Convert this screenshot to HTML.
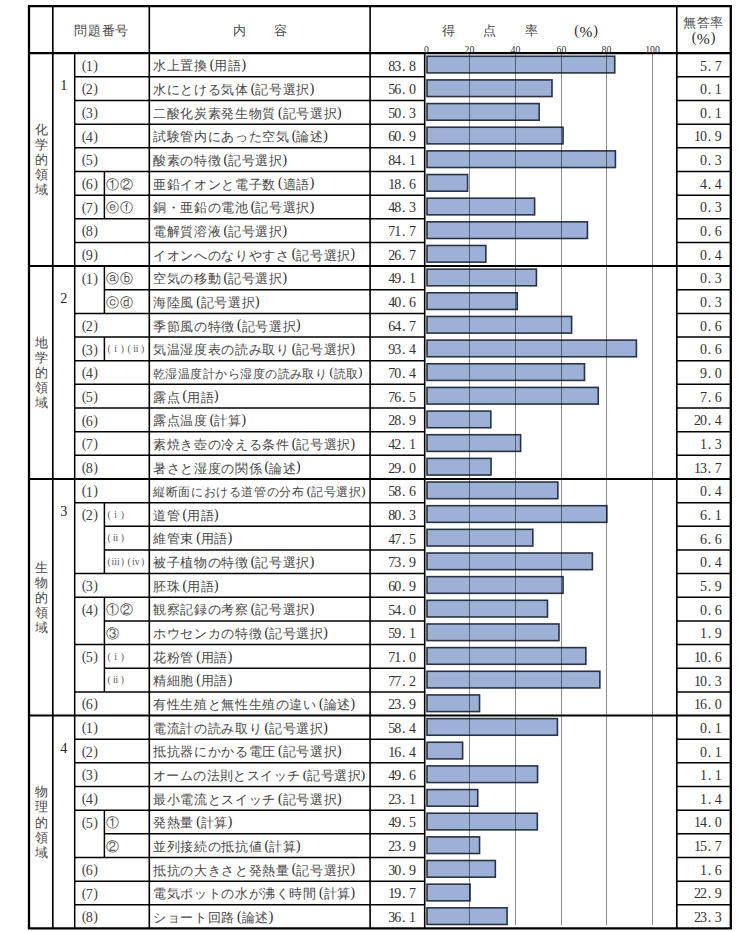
<!DOCTYPE html>
<html lang="ja"><head><meta charset="utf-8"><title>得点率</title>
<style>
html,body{margin:0;padding:0;background:#fff;}
body{width:750px;height:932px;overflow:hidden;}
svg{display:block;}
text{font-family:"Liberation Serif",serif;fill:#262626;}
.c{fill:#484848;}
.p{fill:#444;}
.n{fill:#333;}
.s{fill:#555;}
</style></head><body>
<svg width="750" height="932" viewBox="0 0 750 932">
<rect width="750" height="932" fill="#fff"/>
<rect x="427.00" y="56.25" width="187.74" height="16.65" fill="#9cb1d5" stroke="#2a3344" stroke-width="1.6"/>
<rect x="427.00" y="79.91" width="124.99" height="16.65" fill="#9cb1d5" stroke="#2a3344" stroke-width="1.6"/>
<rect x="427.00" y="103.56" width="112.13" height="16.65" fill="#9cb1d5" stroke="#2a3344" stroke-width="1.6"/>
<rect x="427.00" y="127.22" width="136.05" height="16.65" fill="#9cb1d5" stroke="#2a3344" stroke-width="1.6"/>
<rect x="427.00" y="150.87" width="188.41" height="16.65" fill="#9cb1d5" stroke="#2a3344" stroke-width="1.6"/>
<rect x="427.00" y="174.53" width="40.58" height="16.65" fill="#9cb1d5" stroke="#2a3344" stroke-width="1.6"/>
<rect x="427.00" y="198.18" width="107.61" height="16.65" fill="#9cb1d5" stroke="#2a3344" stroke-width="1.6"/>
<rect x="427.00" y="221.84" width="160.43" height="16.65" fill="#9cb1d5" stroke="#2a3344" stroke-width="1.6"/>
<rect x="427.00" y="245.49" width="58.86" height="16.65" fill="#9cb1d5" stroke="#2a3344" stroke-width="1.6"/>
<rect x="427.00" y="269.15" width="109.42" height="16.65" fill="#9cb1d5" stroke="#2a3344" stroke-width="1.6"/>
<rect x="427.00" y="292.80" width="90.23" height="16.65" fill="#9cb1d5" stroke="#2a3344" stroke-width="1.6"/>
<rect x="427.00" y="316.46" width="144.63" height="16.65" fill="#9cb1d5" stroke="#2a3344" stroke-width="1.6"/>
<rect x="427.00" y="340.11" width="209.40" height="16.65" fill="#9cb1d5" stroke="#2a3344" stroke-width="1.6"/>
<rect x="427.00" y="363.76" width="157.49" height="16.65" fill="#9cb1d5" stroke="#2a3344" stroke-width="1.6"/>
<rect x="427.00" y="387.42" width="171.26" height="16.65" fill="#9cb1d5" stroke="#2a3344" stroke-width="1.6"/>
<rect x="427.00" y="411.08" width="63.83" height="16.65" fill="#9cb1d5" stroke="#2a3344" stroke-width="1.6"/>
<rect x="427.00" y="434.73" width="93.62" height="16.65" fill="#9cb1d5" stroke="#2a3344" stroke-width="1.6"/>
<rect x="427.00" y="458.38" width="64.05" height="16.65" fill="#9cb1d5" stroke="#2a3344" stroke-width="1.6"/>
<rect x="427.00" y="482.04" width="130.86" height="16.65" fill="#9cb1d5" stroke="#2a3344" stroke-width="1.6"/>
<rect x="427.00" y="505.70" width="179.84" height="16.65" fill="#9cb1d5" stroke="#2a3344" stroke-width="1.6"/>
<rect x="427.00" y="529.35" width="105.81" height="16.65" fill="#9cb1d5" stroke="#2a3344" stroke-width="1.6"/>
<rect x="427.00" y="553.00" width="165.39" height="16.65" fill="#9cb1d5" stroke="#2a3344" stroke-width="1.6"/>
<rect x="427.00" y="576.66" width="136.05" height="16.65" fill="#9cb1d5" stroke="#2a3344" stroke-width="1.6"/>
<rect x="427.00" y="600.32" width="120.48" height="16.65" fill="#9cb1d5" stroke="#2a3344" stroke-width="1.6"/>
<rect x="427.00" y="623.97" width="131.99" height="16.65" fill="#9cb1d5" stroke="#2a3344" stroke-width="1.6"/>
<rect x="427.00" y="647.62" width="158.85" height="16.65" fill="#9cb1d5" stroke="#2a3344" stroke-width="1.6"/>
<rect x="427.00" y="671.28" width="172.84" height="16.65" fill="#9cb1d5" stroke="#2a3344" stroke-width="1.6"/>
<rect x="427.00" y="694.94" width="52.54" height="16.65" fill="#9cb1d5" stroke="#2a3344" stroke-width="1.6"/>
<rect x="427.00" y="718.59" width="130.41" height="16.65" fill="#9cb1d5" stroke="#2a3344" stroke-width="1.6"/>
<rect x="427.00" y="742.25" width="35.61" height="16.65" fill="#9cb1d5" stroke="#2a3344" stroke-width="1.6"/>
<rect x="427.00" y="765.90" width="110.55" height="16.65" fill="#9cb1d5" stroke="#2a3344" stroke-width="1.6"/>
<rect x="427.00" y="789.56" width="50.74" height="16.65" fill="#9cb1d5" stroke="#2a3344" stroke-width="1.6"/>
<rect x="427.00" y="813.21" width="110.32" height="16.65" fill="#9cb1d5" stroke="#2a3344" stroke-width="1.6"/>
<rect x="427.00" y="836.87" width="52.54" height="16.65" fill="#9cb1d5" stroke="#2a3344" stroke-width="1.6"/>
<rect x="427.00" y="860.52" width="68.34" height="16.65" fill="#9cb1d5" stroke="#2a3344" stroke-width="1.6"/>
<rect x="427.00" y="884.18" width="43.06" height="16.65" fill="#9cb1d5" stroke="#2a3344" stroke-width="1.6"/>
<rect x="427.00" y="907.83" width="80.08" height="16.65" fill="#9cb1d5" stroke="#2a3344" stroke-width="1.6"/>
<line x1="469.50" y1="53.20" x2="469.50" y2="925" stroke="#000" stroke-opacity="0.45" stroke-width="1"/>
<line x1="515.50" y1="53.20" x2="515.50" y2="925" stroke="#000" stroke-opacity="0.45" stroke-width="1"/>
<line x1="561.50" y1="53.20" x2="561.50" y2="925" stroke="#000" stroke-opacity="0.45" stroke-width="1"/>
<line x1="606.50" y1="53.20" x2="606.50" y2="925" stroke="#000" stroke-opacity="0.45" stroke-width="1"/>
<line x1="652.50" y1="53.20" x2="652.50" y2="925" stroke="#000" stroke-opacity="0.45" stroke-width="1"/>
<line x1="74.70" y1="76.86" x2="424.70" y2="76.86" stroke="#000" stroke-width="1.5"/>
<line x1="676.80" y1="76.86" x2="730.80" y2="76.86" stroke="#000" stroke-width="1.5"/>
<line x1="74.70" y1="100.51" x2="424.70" y2="100.51" stroke="#000" stroke-width="1.5"/>
<line x1="676.80" y1="100.51" x2="730.80" y2="100.51" stroke="#000" stroke-width="1.5"/>
<line x1="74.70" y1="124.17" x2="424.70" y2="124.17" stroke="#000" stroke-width="1.5"/>
<line x1="676.80" y1="124.17" x2="730.80" y2="124.17" stroke="#000" stroke-width="1.5"/>
<line x1="74.70" y1="147.82" x2="424.70" y2="147.82" stroke="#000" stroke-width="1.5"/>
<line x1="676.80" y1="147.82" x2="730.80" y2="147.82" stroke="#000" stroke-width="1.5"/>
<line x1="74.70" y1="171.48" x2="424.70" y2="171.48" stroke="#000" stroke-width="1.5"/>
<line x1="676.80" y1="171.48" x2="730.80" y2="171.48" stroke="#000" stroke-width="1.5"/>
<line x1="74.70" y1="195.13" x2="424.70" y2="195.13" stroke="#000" stroke-width="1.5"/>
<line x1="676.80" y1="195.13" x2="730.80" y2="195.13" stroke="#000" stroke-width="1.5"/>
<line x1="74.70" y1="218.79" x2="424.70" y2="218.79" stroke="#000" stroke-width="1.5"/>
<line x1="676.80" y1="218.79" x2="730.80" y2="218.79" stroke="#000" stroke-width="1.5"/>
<line x1="74.70" y1="242.44" x2="424.70" y2="242.44" stroke="#000" stroke-width="1.5"/>
<line x1="676.80" y1="242.44" x2="730.80" y2="242.44" stroke="#000" stroke-width="1.5"/>
<line x1="29.00" y1="266.10" x2="730.80" y2="266.10" stroke="#000" stroke-width="2.0"/>
<line x1="104.40" y1="289.75" x2="424.70" y2="289.75" stroke="#000" stroke-width="1.5"/>
<line x1="676.80" y1="289.75" x2="730.80" y2="289.75" stroke="#000" stroke-width="1.5"/>
<line x1="74.70" y1="313.41" x2="424.70" y2="313.41" stroke="#000" stroke-width="1.5"/>
<line x1="676.80" y1="313.41" x2="730.80" y2="313.41" stroke="#000" stroke-width="1.5"/>
<line x1="74.70" y1="337.06" x2="424.70" y2="337.06" stroke="#000" stroke-width="1.5"/>
<line x1="676.80" y1="337.06" x2="730.80" y2="337.06" stroke="#000" stroke-width="1.5"/>
<line x1="74.70" y1="360.71" x2="424.70" y2="360.71" stroke="#000" stroke-width="1.5"/>
<line x1="676.80" y1="360.71" x2="730.80" y2="360.71" stroke="#000" stroke-width="1.5"/>
<line x1="74.70" y1="384.37" x2="424.70" y2="384.37" stroke="#000" stroke-width="1.5"/>
<line x1="676.80" y1="384.37" x2="730.80" y2="384.37" stroke="#000" stroke-width="1.5"/>
<line x1="74.70" y1="408.03" x2="424.70" y2="408.03" stroke="#000" stroke-width="1.5"/>
<line x1="676.80" y1="408.03" x2="730.80" y2="408.03" stroke="#000" stroke-width="1.5"/>
<line x1="74.70" y1="431.68" x2="424.70" y2="431.68" stroke="#000" stroke-width="1.5"/>
<line x1="676.80" y1="431.68" x2="730.80" y2="431.68" stroke="#000" stroke-width="1.5"/>
<line x1="74.70" y1="455.33" x2="424.70" y2="455.33" stroke="#000" stroke-width="1.5"/>
<line x1="676.80" y1="455.33" x2="730.80" y2="455.33" stroke="#000" stroke-width="1.5"/>
<line x1="29.00" y1="478.99" x2="730.80" y2="478.99" stroke="#000" stroke-width="2.0"/>
<line x1="74.70" y1="502.65" x2="424.70" y2="502.65" stroke="#000" stroke-width="1.5"/>
<line x1="676.80" y1="502.65" x2="730.80" y2="502.65" stroke="#000" stroke-width="1.5"/>
<line x1="104.40" y1="526.30" x2="424.70" y2="526.30" stroke="#000" stroke-width="1.5"/>
<line x1="676.80" y1="526.30" x2="730.80" y2="526.30" stroke="#000" stroke-width="1.5"/>
<line x1="104.40" y1="549.96" x2="424.70" y2="549.96" stroke="#000" stroke-width="1.5"/>
<line x1="676.80" y1="549.96" x2="730.80" y2="549.96" stroke="#000" stroke-width="1.5"/>
<line x1="74.70" y1="573.61" x2="424.70" y2="573.61" stroke="#000" stroke-width="1.5"/>
<line x1="676.80" y1="573.61" x2="730.80" y2="573.61" stroke="#000" stroke-width="1.5"/>
<line x1="74.70" y1="597.27" x2="424.70" y2="597.27" stroke="#000" stroke-width="1.5"/>
<line x1="676.80" y1="597.27" x2="730.80" y2="597.27" stroke="#000" stroke-width="1.5"/>
<line x1="104.40" y1="620.92" x2="424.70" y2="620.92" stroke="#000" stroke-width="1.5"/>
<line x1="676.80" y1="620.92" x2="730.80" y2="620.92" stroke="#000" stroke-width="1.5"/>
<line x1="74.70" y1="644.58" x2="424.70" y2="644.58" stroke="#000" stroke-width="1.5"/>
<line x1="676.80" y1="644.58" x2="730.80" y2="644.58" stroke="#000" stroke-width="1.5"/>
<line x1="104.40" y1="668.23" x2="424.70" y2="668.23" stroke="#000" stroke-width="1.5"/>
<line x1="676.80" y1="668.23" x2="730.80" y2="668.23" stroke="#000" stroke-width="1.5"/>
<line x1="74.70" y1="691.89" x2="424.70" y2="691.89" stroke="#000" stroke-width="1.5"/>
<line x1="676.80" y1="691.89" x2="730.80" y2="691.89" stroke="#000" stroke-width="1.5"/>
<line x1="29.00" y1="715.54" x2="730.80" y2="715.54" stroke="#000" stroke-width="2.0"/>
<line x1="74.70" y1="739.20" x2="424.70" y2="739.20" stroke="#000" stroke-width="1.5"/>
<line x1="676.80" y1="739.20" x2="730.80" y2="739.20" stroke="#000" stroke-width="1.5"/>
<line x1="74.70" y1="762.85" x2="424.70" y2="762.85" stroke="#000" stroke-width="1.5"/>
<line x1="676.80" y1="762.85" x2="730.80" y2="762.85" stroke="#000" stroke-width="1.5"/>
<line x1="74.70" y1="786.51" x2="424.70" y2="786.51" stroke="#000" stroke-width="1.5"/>
<line x1="676.80" y1="786.51" x2="730.80" y2="786.51" stroke="#000" stroke-width="1.5"/>
<line x1="74.70" y1="810.16" x2="424.70" y2="810.16" stroke="#000" stroke-width="1.5"/>
<line x1="676.80" y1="810.16" x2="730.80" y2="810.16" stroke="#000" stroke-width="1.5"/>
<line x1="104.40" y1="833.82" x2="424.70" y2="833.82" stroke="#000" stroke-width="1.5"/>
<line x1="676.80" y1="833.82" x2="730.80" y2="833.82" stroke="#000" stroke-width="1.5"/>
<line x1="74.70" y1="857.47" x2="424.70" y2="857.47" stroke="#000" stroke-width="1.5"/>
<line x1="676.80" y1="857.47" x2="730.80" y2="857.47" stroke="#000" stroke-width="1.5"/>
<line x1="74.70" y1="881.13" x2="424.70" y2="881.13" stroke="#000" stroke-width="1.5"/>
<line x1="676.80" y1="881.13" x2="730.80" y2="881.13" stroke="#000" stroke-width="1.5"/>
<line x1="74.70" y1="904.78" x2="424.70" y2="904.78" stroke="#000" stroke-width="1.5"/>
<line x1="676.80" y1="904.78" x2="730.80" y2="904.78" stroke="#000" stroke-width="1.5"/>
<line x1="29.00" y1="53.20" x2="730.80" y2="53.20" stroke="#000" stroke-width="2.2"/>
<line x1="52.80" y1="6.20" x2="52.80" y2="928.40" stroke="#000" stroke-width="1.7"/>
<line x1="74.70" y1="53.20" x2="74.70" y2="928.40" stroke="#000" stroke-width="1.5"/>
<line x1="149.30" y1="6.20" x2="149.30" y2="928.40" stroke="#000" stroke-width="1.6"/>
<line x1="370.10" y1="6.20" x2="370.10" y2="928.40" stroke="#000" stroke-width="1.6"/>
<line x1="424.70" y1="53.20" x2="424.70" y2="928.40" stroke="#000" stroke-width="1.6"/>
<line x1="676.80" y1="6.20" x2="676.80" y2="928.40" stroke="#000" stroke-width="1.7"/>
<line x1="104.40" y1="171.48" x2="104.40" y2="195.13" stroke="#000" stroke-width="1.5"/>
<line x1="104.40" y1="195.13" x2="104.40" y2="218.79" stroke="#000" stroke-width="1.5"/>
<line x1="104.40" y1="266.10" x2="104.40" y2="289.75" stroke="#000" stroke-width="1.5"/>
<line x1="104.40" y1="289.75" x2="104.40" y2="313.41" stroke="#000" stroke-width="1.5"/>
<line x1="104.40" y1="337.06" x2="104.40" y2="360.71" stroke="#000" stroke-width="1.5"/>
<line x1="104.40" y1="502.65" x2="104.40" y2="526.30" stroke="#000" stroke-width="1.5"/>
<line x1="104.40" y1="526.30" x2="104.40" y2="549.96" stroke="#000" stroke-width="1.5"/>
<line x1="104.40" y1="549.96" x2="104.40" y2="573.61" stroke="#000" stroke-width="1.5"/>
<line x1="104.40" y1="597.27" x2="104.40" y2="620.92" stroke="#000" stroke-width="1.5"/>
<line x1="104.40" y1="620.92" x2="104.40" y2="644.58" stroke="#000" stroke-width="1.5"/>
<line x1="104.40" y1="644.58" x2="104.40" y2="668.23" stroke="#000" stroke-width="1.5"/>
<line x1="104.40" y1="668.23" x2="104.40" y2="691.89" stroke="#000" stroke-width="1.5"/>
<line x1="104.40" y1="810.16" x2="104.40" y2="833.82" stroke="#000" stroke-width="1.5"/>
<line x1="104.40" y1="833.82" x2="104.40" y2="857.47" stroke="#000" stroke-width="1.5"/>
<line x1="27.90" y1="6.20" x2="731.90" y2="6.20" stroke="#000" stroke-width="2.3"/>
<line x1="27.90" y1="928.40" x2="731.90" y2="928.40" stroke="#000" stroke-width="2.3"/>
<line x1="29.00" y1="6.20" x2="29.00" y2="928.40" stroke="#000" stroke-width="2.3"/>
<line x1="730.80" y1="6.20" x2="730.80" y2="928.40" stroke="#000" stroke-width="2.3"/>
<text class="p" font-size="14.2" text-anchor="middle"><tspan x="84.2" y="69.70">(</tspan><tspan x="89.35" y="70.80">1</tspan><tspan x="95.6" y="69.70">)</tspan></text>
<text><tspan class="c" x="152.97 166.62 180.28 193.93" y="70.38" font-size="12.90">水上置換</tspan><tspan x="209.78" y="69.21" font-size="13.65">(</tspan><tspan class="c" x="214.40 228.05" y="70.38" font-size="12.90">用語</tspan><tspan x="241.43" y="69.21" font-size="13.65">)</tspan></text>
<text x="391.70 397.70 403.70 412.40" y="70.50" font-size="14" text-anchor="middle" class="n">83.8</text>
<text x="703.50 709.50 718.20" y="70.50" font-size="14" text-anchor="middle" class="n">5.7</text>
<text class="p" font-size="14.2" text-anchor="middle"><tspan x="84.2" y="93.36">(</tspan><tspan x="89.35" y="94.46">2</tspan><tspan x="95.6" y="93.36">)</tspan></text>
<text><tspan class="c" x="152.97 166.62 180.28 193.93 207.58 221.23 234.88" y="94.03" font-size="12.90">水にとける気体</tspan><tspan x="250.73" y="92.87" font-size="13.65">(</tspan><tspan class="c" x="255.35 269.00 282.65 296.30" y="94.03" font-size="12.90">記号選択</tspan><tspan x="309.67" y="92.87" font-size="13.65">)</tspan></text>
<text x="391.70 397.70 403.70 412.40" y="94.16" font-size="14" text-anchor="middle" class="n">56.0</text>
<text x="703.50 709.50 718.20" y="94.16" font-size="14" text-anchor="middle" class="n">0.1</text>
<text class="p" font-size="14.2" text-anchor="middle"><tspan x="84.2" y="117.01">(</tspan><tspan x="89.35" y="118.11">3</tspan><tspan x="95.6" y="117.01">)</tspan></text>
<text><tspan class="c" x="152.97 166.62 180.28 193.93 207.58 221.23 234.88 248.53 262.18" y="117.69" font-size="12.90">二酸化炭素発生物質</tspan><tspan x="278.03" y="116.52" font-size="13.65">(</tspan><tspan class="c" x="282.65 296.30 309.95 323.60" y="117.69" font-size="12.90">記号選択</tspan><tspan x="336.97" y="116.52" font-size="13.65">)</tspan></text>
<text x="391.70 397.70 403.70 412.40" y="117.81" font-size="14" text-anchor="middle" class="n">50.3</text>
<text x="703.50 709.50 718.20" y="117.81" font-size="14" text-anchor="middle" class="n">0.1</text>
<text class="p" font-size="14.2" text-anchor="middle"><tspan x="84.2" y="140.67">(</tspan><tspan x="89.35" y="141.77">4</tspan><tspan x="95.6" y="140.67">)</tspan></text>
<text><tspan class="c" x="152.97 166.62 180.28 193.93 207.58 221.23 234.88 248.53 262.18 275.82" y="141.34" font-size="12.90">試験管内にあった空気</tspan><tspan x="291.68" y="140.18" font-size="13.65">(</tspan><tspan class="c" x="296.30 309.95" y="141.34" font-size="12.90">論述</tspan><tspan x="323.32" y="140.18" font-size="13.65">)</tspan></text>
<text x="391.70 397.70 403.70 412.40" y="141.47" font-size="14" text-anchor="middle" class="n">60.9</text>
<text x="697.50 703.50 709.50 718.20" y="141.47" font-size="14" text-anchor="middle" class="n">10.9</text>
<text class="p" font-size="14.2" text-anchor="middle"><tspan x="84.2" y="164.32">(</tspan><tspan x="89.35" y="165.42">5</tspan><tspan x="95.6" y="164.32">)</tspan></text>
<text><tspan class="c" x="152.97 166.62 180.28 193.93 207.58" y="165.00" font-size="12.90">酸素の特徴</tspan><tspan x="223.43" y="163.83" font-size="13.65">(</tspan><tspan class="c" x="228.05 241.70 255.35 269.00" y="165.00" font-size="12.90">記号選択</tspan><tspan x="282.38" y="163.83" font-size="13.65">)</tspan></text>
<text x="391.70 397.70 403.70 412.40" y="165.12" font-size="14" text-anchor="middle" class="n">84.1</text>
<text x="703.50 709.50 718.20" y="165.12" font-size="14" text-anchor="middle" class="n">0.3</text>
<text class="p" font-size="14.2" text-anchor="middle"><tspan x="84.2" y="187.98">(</tspan><tspan x="89.35" y="189.08">6</tspan><tspan x="95.6" y="187.98">)</tspan></text>
<text><tspan class="c" x="105.92 119.58" y="188.69" font-size="13.00">①②</tspan></text>
<text><tspan class="c" x="152.97 166.62 180.28 193.93 207.58 221.23 234.88 248.53 262.18" y="188.65" font-size="12.90">亜鉛イオンと電子数</tspan><tspan x="278.03" y="187.49" font-size="13.65">(</tspan><tspan class="c" x="282.65 296.30" y="188.65" font-size="12.90">適語</tspan><tspan x="309.67" y="187.49" font-size="13.65">)</tspan></text>
<text x="391.70 397.70 403.70 412.40" y="188.78" font-size="14" text-anchor="middle" class="n">18.6</text>
<text x="703.50 709.50 718.20" y="188.78" font-size="14" text-anchor="middle" class="n">4.4</text>
<text class="p" font-size="14.2" text-anchor="middle"><tspan x="84.2" y="211.63">(</tspan><tspan x="89.35" y="212.73">7</tspan><tspan x="95.6" y="211.63">)</tspan></text>
<text><tspan class="c" x="105.92 119.58" y="212.34" font-size="13.00">ⓔⓕ</tspan></text>
<text><tspan class="c" x="152.97 166.62 180.28 193.93 207.58 221.23 234.88" y="212.31" font-size="12.90">銅・亜鉛の電池</tspan><tspan x="250.73" y="211.14" font-size="13.65">(</tspan><tspan class="c" x="255.35 269.00 282.65 296.30" y="212.31" font-size="12.90">記号選択</tspan><tspan x="309.67" y="211.14" font-size="13.65">)</tspan></text>
<text x="391.70 397.70 403.70 412.40" y="212.43" font-size="14" text-anchor="middle" class="n">48.3</text>
<text x="703.50 709.50 718.20" y="212.43" font-size="14" text-anchor="middle" class="n">0.3</text>
<text class="p" font-size="14.2" text-anchor="middle"><tspan x="84.2" y="235.29">(</tspan><tspan x="89.35" y="236.39">8</tspan><tspan x="95.6" y="235.29">)</tspan></text>
<text><tspan class="c" x="152.97 166.62 180.28 193.93 207.58" y="235.96" font-size="12.90">電解質溶液</tspan><tspan x="223.43" y="234.80" font-size="13.65">(</tspan><tspan class="c" x="228.05 241.70 255.35 269.00" y="235.96" font-size="12.90">記号選択</tspan><tspan x="282.38" y="234.80" font-size="13.65">)</tspan></text>
<text x="391.70 397.70 403.70 412.40" y="236.09" font-size="14" text-anchor="middle" class="n">71.7</text>
<text x="703.50 709.50 718.20" y="236.09" font-size="14" text-anchor="middle" class="n">0.6</text>
<text class="p" font-size="14.2" text-anchor="middle"><tspan x="84.2" y="258.94">(</tspan><tspan x="89.35" y="260.04">9</tspan><tspan x="95.6" y="258.94">)</tspan></text>
<text><tspan class="c" x="152.97 166.62 180.28 193.93 207.58 221.23 234.88 248.53 262.18 275.82" y="259.62" font-size="12.90">イオンへのなりやすさ</tspan><tspan x="291.68" y="258.45" font-size="13.65">(</tspan><tspan class="c" x="296.30 309.95 323.60 337.25" y="259.62" font-size="12.90">記号選択</tspan><tspan x="350.62" y="258.45" font-size="13.65">)</tspan></text>
<text x="391.70 397.70 403.70 412.40" y="259.74" font-size="14" text-anchor="middle" class="n">26.7</text>
<text x="703.50 709.50 718.20" y="259.74" font-size="14" text-anchor="middle" class="n">0.4</text>
<text class="p" font-size="14.2" text-anchor="middle"><tspan x="84.2" y="282.60">(</tspan><tspan x="89.35" y="283.70">1</tspan><tspan x="95.6" y="282.60">)</tspan></text>
<text><tspan class="c" x="105.92 119.58" y="283.31" font-size="13.00">ⓐⓑ</tspan></text>
<text><tspan class="c" x="152.97 166.62 180.28 193.93 207.58" y="283.27" font-size="12.90">空気の移動</tspan><tspan x="223.43" y="282.11" font-size="13.65">(</tspan><tspan class="c" x="228.05 241.70 255.35 269.00" y="283.27" font-size="12.90">記号選択</tspan><tspan x="282.38" y="282.11" font-size="13.65">)</tspan></text>
<text x="391.70 397.70 403.70 412.40" y="283.40" font-size="14" text-anchor="middle" class="n">49.1</text>
<text x="703.50 709.50 718.20" y="283.40" font-size="14" text-anchor="middle" class="n">0.3</text>
<text><tspan class="c" x="105.92 119.58" y="306.97" font-size="13.00">ⓒⓓ</tspan></text>
<text><tspan class="c" x="152.97 166.62 180.28" y="306.93" font-size="12.90">海陸風</tspan><tspan x="196.13" y="305.76" font-size="13.65">(</tspan><tspan class="c" x="200.75 214.40 228.05 241.70" y="306.93" font-size="12.90">記号選択</tspan><tspan x="255.08" y="305.76" font-size="13.65">)</tspan></text>
<text x="391.70 397.70 403.70 412.40" y="307.05" font-size="14" text-anchor="middle" class="n">40.6</text>
<text x="703.50 709.50 718.20" y="307.05" font-size="14" text-anchor="middle" class="n">0.3</text>
<text class="p" font-size="14.2" text-anchor="middle"><tspan x="84.2" y="329.91">(</tspan><tspan x="89.35" y="331.01">2</tspan><tspan x="95.6" y="329.91">)</tspan></text>
<text><tspan class="c" x="152.97 166.62 180.28 193.93 207.58 221.23" y="330.58" font-size="12.90">季節風の特徴</tspan><tspan x="237.08" y="329.42" font-size="13.65">(</tspan><tspan class="c" x="241.70 255.35 269.00 282.65" y="330.58" font-size="12.90">記号選択</tspan><tspan x="296.02" y="329.42" font-size="13.65">)</tspan></text>
<text x="391.70 397.70 403.70 412.40" y="330.71" font-size="14" text-anchor="middle" class="n">64.7</text>
<text x="703.50 709.50 718.20" y="330.71" font-size="14" text-anchor="middle" class="n">0.6</text>
<text class="p" font-size="14.2" text-anchor="middle"><tspan x="84.2" y="353.56">(</tspan><tspan x="89.35" y="354.66">3</tspan><tspan x="95.6" y="353.56">)</tspan></text>
<text class="s" y="352.06" font-size="9.6" text-anchor="middle"><tspan x="109.00">(</tspan><tspan x="115.60">i</tspan><tspan x="122.40">)</tspan><tspan x="129.20">(</tspan><tspan x="135.80">ii</tspan><tspan x="142.60">)</tspan></text>
<text><tspan class="c" x="152.97 166.62 180.28 193.93 207.58 221.23 234.88 248.53 262.18 275.82" y="354.24" font-size="12.90">気温湿度表の読み取り</tspan><tspan x="291.68" y="353.07" font-size="13.65">(</tspan><tspan class="c" x="296.30 309.95 323.60 337.25" y="354.24" font-size="12.90">記号選択</tspan><tspan x="350.62" y="353.07" font-size="13.65">)</tspan></text>
<text x="391.70 397.70 403.70 412.40" y="354.36" font-size="14" text-anchor="middle" class="n">93.4</text>
<text x="703.50 709.50 718.20" y="354.36" font-size="14" text-anchor="middle" class="n">0.6</text>
<text class="p" font-size="14.2" text-anchor="middle"><tspan x="84.2" y="377.21">(</tspan><tspan x="89.35" y="378.31">4</tspan><tspan x="95.6" y="377.21">)</tspan></text>
<text><tspan class="c" x="152.94 165.40 177.87 190.33 202.79 215.25 227.72 240.18 252.64 265.10 277.57 290.03 302.49 314.95" y="377.50" font-size="11.78">乾湿温度計から湿度の読み取り</tspan><tspan x="329.46" y="376.43" font-size="12.46">(</tspan><tspan class="c" x="333.65 346.11" y="377.50" font-size="11.78">読取</tspan><tspan x="358.33" y="376.43" font-size="12.46">)</tspan></text>
<text x="391.70 397.70 403.70 412.40" y="378.01" font-size="14" text-anchor="middle" class="n">70.4</text>
<text x="703.50 709.50 718.20" y="378.01" font-size="14" text-anchor="middle" class="n">9.0</text>
<text class="p" font-size="14.2" text-anchor="middle"><tspan x="84.2" y="400.87">(</tspan><tspan x="89.35" y="401.97">5</tspan><tspan x="95.6" y="400.87">)</tspan></text>
<text><tspan class="c" x="152.97 166.62" y="401.55" font-size="12.90">露点</tspan><tspan x="182.48" y="400.38" font-size="13.65">(</tspan><tspan class="c" x="187.10 200.75" y="401.55" font-size="12.90">用語</tspan><tspan x="214.12" y="400.38" font-size="13.65">)</tspan></text>
<text x="391.70 397.70 403.70 412.40" y="401.67" font-size="14" text-anchor="middle" class="n">76.5</text>
<text x="703.50 709.50 718.20" y="401.67" font-size="14" text-anchor="middle" class="n">7.6</text>
<text class="p" font-size="14.2" text-anchor="middle"><tspan x="84.2" y="424.53">(</tspan><tspan x="89.35" y="425.63">6</tspan><tspan x="95.6" y="424.53">)</tspan></text>
<text><tspan class="c" x="152.97 166.62 180.28 193.93" y="425.20" font-size="12.90">露点温度</tspan><tspan x="209.78" y="424.04" font-size="13.65">(</tspan><tspan class="c" x="214.40 228.05" y="425.20" font-size="12.90">計算</tspan><tspan x="241.43" y="424.04" font-size="13.65">)</tspan></text>
<text x="391.70 397.70 403.70 412.40" y="425.33" font-size="14" text-anchor="middle" class="n">28.9</text>
<text x="697.50 703.50 709.50 718.20" y="425.33" font-size="14" text-anchor="middle" class="n">20.4</text>
<text class="p" font-size="14.2" text-anchor="middle"><tspan x="84.2" y="448.18">(</tspan><tspan x="89.35" y="449.28">7</tspan><tspan x="95.6" y="448.18">)</tspan></text>
<text><tspan class="c" x="152.97 166.62 180.28 193.93 207.58 221.23 234.88 248.53 262.18 275.82" y="448.86" font-size="12.90">素焼き壺の冷える条件</tspan><tspan x="291.68" y="447.69" font-size="13.65">(</tspan><tspan class="c" x="296.30 309.95 323.60 337.25" y="448.86" font-size="12.90">記号選択</tspan><tspan x="350.62" y="447.69" font-size="13.65">)</tspan></text>
<text x="391.70 397.70 403.70 412.40" y="448.98" font-size="14" text-anchor="middle" class="n">42.1</text>
<text x="703.50 709.50 718.20" y="448.98" font-size="14" text-anchor="middle" class="n">1.3</text>
<text class="p" font-size="14.2" text-anchor="middle"><tspan x="84.2" y="471.83">(</tspan><tspan x="89.35" y="472.94">8</tspan><tspan x="95.6" y="471.83">)</tspan></text>
<text><tspan class="c" x="152.97 166.62 180.28 193.93 207.58 221.23 234.88 248.53" y="472.51" font-size="12.90">暑さと湿度の関係</tspan><tspan x="264.38" y="471.35" font-size="13.65">(</tspan><tspan class="c" x="269.00 282.65" y="472.51" font-size="12.90">論述</tspan><tspan x="296.02" y="471.35" font-size="13.65">)</tspan></text>
<text x="391.70 397.70 403.70 412.40" y="472.63" font-size="14" text-anchor="middle" class="n">29.0</text>
<text x="697.50 703.50 709.50 718.20" y="472.63" font-size="14" text-anchor="middle" class="n">13.7</text>
<text class="p" font-size="14.2" text-anchor="middle"><tspan x="84.2" y="495.49">(</tspan><tspan x="89.35" y="496.59">1</tspan><tspan x="95.6" y="495.49">)</tspan></text>
<text><tspan class="c" x="152.95 165.59 178.23 190.87 203.51 216.15 228.79 241.43 254.07 266.71 279.35 291.99" y="495.83" font-size="11.95">縦断面における道管の分布</tspan><tspan x="306.69" y="494.75" font-size="12.64">(</tspan><tspan class="c" x="310.95 323.59 336.23 348.87" y="495.83" font-size="11.95">記号選択</tspan><tspan x="361.26" y="494.75" font-size="12.64">)</tspan></text>
<text x="391.70 397.70 403.70 412.40" y="496.29" font-size="14" text-anchor="middle" class="n">58.6</text>
<text x="703.50 709.50 718.20" y="496.29" font-size="14" text-anchor="middle" class="n">0.4</text>
<text class="p" font-size="14.2" text-anchor="middle"><tspan x="84.2" y="519.14">(</tspan><tspan x="89.35" y="520.25">2</tspan><tspan x="95.6" y="519.14">)</tspan></text>
<text class="s" y="517.64" font-size="9.6" text-anchor="middle"><tspan x="109.00">(</tspan><tspan x="115.60">i</tspan><tspan x="122.40">)</tspan></text>
<text><tspan class="c" x="152.97 166.62" y="519.82" font-size="12.90">道管</tspan><tspan x="182.48" y="518.66" font-size="13.65">(</tspan><tspan class="c" x="187.10 200.75" y="519.82" font-size="12.90">用語</tspan><tspan x="214.12" y="518.66" font-size="13.65">)</tspan></text>
<text x="391.70 397.70 403.70 412.40" y="519.95" font-size="14" text-anchor="middle" class="n">80.3</text>
<text x="703.50 709.50 718.20" y="519.95" font-size="14" text-anchor="middle" class="n">6.1</text>
<text class="s" y="541.30" font-size="9.6" text-anchor="middle"><tspan x="109.00">(</tspan><tspan x="115.60">ii</tspan><tspan x="122.40">)</tspan></text>
<text><tspan class="c" x="152.97 166.62 180.28" y="543.48" font-size="12.90">維管束</tspan><tspan x="196.13" y="542.31" font-size="13.65">(</tspan><tspan class="c" x="200.75 214.40" y="543.48" font-size="12.90">用語</tspan><tspan x="227.78" y="542.31" font-size="13.65">)</tspan></text>
<text x="391.70 397.70 403.70 412.40" y="543.60" font-size="14" text-anchor="middle" class="n">47.5</text>
<text x="703.50 709.50 718.20" y="543.60" font-size="14" text-anchor="middle" class="n">6.6</text>
<text class="s" y="564.96" font-size="9.6" text-anchor="middle"><tspan x="109.00">(</tspan><tspan x="115.60">iii</tspan><tspan x="122.40">)</tspan><tspan x="129.20">(</tspan><tspan x="135.80">iv</tspan><tspan x="142.60">)</tspan></text>
<text><tspan class="c" x="152.97 166.62 180.28 193.93 207.58 221.23 234.88" y="567.13" font-size="12.90">被子植物の特徴</tspan><tspan x="250.73" y="565.97" font-size="13.65">(</tspan><tspan class="c" x="255.35 269.00 282.65 296.30" y="567.13" font-size="12.90">記号選択</tspan><tspan x="309.67" y="565.97" font-size="13.65">)</tspan></text>
<text x="391.70 397.70 403.70 412.40" y="567.25" font-size="14" text-anchor="middle" class="n">73.9</text>
<text x="703.50 709.50 718.20" y="567.25" font-size="14" text-anchor="middle" class="n">0.4</text>
<text class="p" font-size="14.2" text-anchor="middle"><tspan x="84.2" y="590.11">(</tspan><tspan x="89.35" y="591.21">3</tspan><tspan x="95.6" y="590.11">)</tspan></text>
<text><tspan class="c" x="152.97 166.62" y="590.79" font-size="12.90">胚珠</tspan><tspan x="182.48" y="589.62" font-size="13.65">(</tspan><tspan class="c" x="187.10 200.75" y="590.79" font-size="12.90">用語</tspan><tspan x="214.12" y="589.62" font-size="13.65">)</tspan></text>
<text x="391.70 397.70 403.70 412.40" y="590.91" font-size="14" text-anchor="middle" class="n">60.9</text>
<text x="703.50 709.50 718.20" y="590.91" font-size="14" text-anchor="middle" class="n">5.9</text>
<text class="p" font-size="14.2" text-anchor="middle"><tspan x="84.2" y="613.77">(</tspan><tspan x="89.35" y="614.87">4</tspan><tspan x="95.6" y="613.77">)</tspan></text>
<text><tspan class="c" x="105.92 119.58" y="614.48" font-size="13.00">①②</tspan></text>
<text><tspan class="c" x="152.97 166.62 180.28 193.93 207.58 221.23 234.88" y="614.44" font-size="12.90">観察記録の考察</tspan><tspan x="250.73" y="613.28" font-size="13.65">(</tspan><tspan class="c" x="255.35 269.00 282.65 296.30" y="614.44" font-size="12.90">記号選択</tspan><tspan x="309.67" y="613.28" font-size="13.65">)</tspan></text>
<text x="391.70 397.70 403.70 412.40" y="614.57" font-size="14" text-anchor="middle" class="n">54.0</text>
<text x="703.50 709.50 718.20" y="614.57" font-size="14" text-anchor="middle" class="n">0.6</text>
<text><tspan class="c" x="105.92" y="638.14" font-size="13.00">③</tspan></text>
<text><tspan class="c" x="152.97 166.62 180.28 193.93 207.58 221.23 234.88 248.53" y="638.10" font-size="12.90">ホウセンカの特徴</tspan><tspan x="264.38" y="636.93" font-size="13.65">(</tspan><tspan class="c" x="269.00 282.65 296.30 309.95" y="638.10" font-size="12.90">記号選択</tspan><tspan x="323.32" y="636.93" font-size="13.65">)</tspan></text>
<text x="391.70 397.70 403.70 412.40" y="638.22" font-size="14" text-anchor="middle" class="n">59.1</text>
<text x="703.50 709.50 718.20" y="638.22" font-size="14" text-anchor="middle" class="n">1.9</text>
<text class="p" font-size="14.2" text-anchor="middle"><tspan x="84.2" y="661.08">(</tspan><tspan x="89.35" y="662.18">5</tspan><tspan x="95.6" y="661.08">)</tspan></text>
<text class="s" y="659.58" font-size="9.6" text-anchor="middle"><tspan x="109.00">(</tspan><tspan x="115.60">i</tspan><tspan x="122.40">)</tspan></text>
<text><tspan class="c" x="152.97 166.62 180.28" y="661.75" font-size="12.90">花粉管</tspan><tspan x="196.13" y="660.59" font-size="13.65">(</tspan><tspan class="c" x="200.75 214.40" y="661.75" font-size="12.90">用語</tspan><tspan x="227.78" y="660.59" font-size="13.65">)</tspan></text>
<text x="391.70 397.70 403.70 412.40" y="661.88" font-size="14" text-anchor="middle" class="n">71.0</text>
<text x="697.50 703.50 709.50 718.20" y="661.88" font-size="14" text-anchor="middle" class="n">10.6</text>
<text class="s" y="683.23" font-size="9.6" text-anchor="middle"><tspan x="109.00">(</tspan><tspan x="115.60">ii</tspan><tspan x="122.40">)</tspan></text>
<text><tspan class="c" x="152.97 166.62 180.28" y="685.41" font-size="12.90">精細胞</tspan><tspan x="196.13" y="684.24" font-size="13.65">(</tspan><tspan class="c" x="200.75 214.40" y="685.41" font-size="12.90">用語</tspan><tspan x="227.78" y="684.24" font-size="13.65">)</tspan></text>
<text x="391.70 397.70 403.70 412.40" y="685.53" font-size="14" text-anchor="middle" class="n">77.2</text>
<text x="697.50 703.50 709.50 718.20" y="685.53" font-size="14" text-anchor="middle" class="n">10.3</text>
<text class="p" font-size="14.2" text-anchor="middle"><tspan x="84.2" y="708.39">(</tspan><tspan x="89.35" y="709.49">6</tspan><tspan x="95.6" y="708.39">)</tspan></text>
<text><tspan class="c" x="152.97 166.62 180.28 193.93 207.58 221.23 234.88 248.53 262.18 275.82 289.47 303.12" y="709.06" font-size="12.90">有性生殖と無性生殖の違い</tspan><tspan x="318.98" y="707.90" font-size="13.65">(</tspan><tspan class="c" x="323.60 337.25" y="709.06" font-size="12.90">論述</tspan><tspan x="350.62" y="707.90" font-size="13.65">)</tspan></text>
<text x="391.70 397.70 403.70 412.40" y="709.19" font-size="14" text-anchor="middle" class="n">23.9</text>
<text x="697.50 703.50 709.50 718.20" y="709.19" font-size="14" text-anchor="middle" class="n">16.0</text>
<text class="p" font-size="14.2" text-anchor="middle"><tspan x="84.2" y="732.04">(</tspan><tspan x="89.35" y="733.14">1</tspan><tspan x="95.6" y="732.04">)</tspan></text>
<text><tspan class="c" x="152.97 166.62 180.28 193.93 207.58 221.23 234.88 248.53" y="732.72" font-size="12.90">電流計の読み取り</tspan><tspan x="264.38" y="731.55" font-size="13.65">(</tspan><tspan class="c" x="269.00 282.65 296.30 309.95" y="732.72" font-size="12.90">記号選択</tspan><tspan x="323.32" y="731.55" font-size="13.65">)</tspan></text>
<text x="391.70 397.70 403.70 412.40" y="732.84" font-size="14" text-anchor="middle" class="n">58.4</text>
<text x="703.50 709.50 718.20" y="732.84" font-size="14" text-anchor="middle" class="n">0.1</text>
<text class="p" font-size="14.2" text-anchor="middle"><tspan x="84.2" y="755.70">(</tspan><tspan x="89.35" y="756.80">2</tspan><tspan x="95.6" y="755.70">)</tspan></text>
<text><tspan class="c" x="152.97 166.62 180.28 193.93 207.58 221.23 234.88 248.53 262.18" y="756.37" font-size="12.90">抵抗器にかかる電圧</tspan><tspan x="278.03" y="755.21" font-size="13.65">(</tspan><tspan class="c" x="282.65 296.30 309.95 323.60" y="756.37" font-size="12.90">記号選択</tspan><tspan x="336.97" y="755.21" font-size="13.65">)</tspan></text>
<text x="391.70 397.70 403.70 412.40" y="756.50" font-size="14" text-anchor="middle" class="n">16.4</text>
<text x="703.50 709.50 718.20" y="756.50" font-size="14" text-anchor="middle" class="n">0.1</text>
<text class="p" font-size="14.2" text-anchor="middle"><tspan x="84.2" y="779.35">(</tspan><tspan x="89.35" y="780.45">3</tspan><tspan x="95.6" y="779.35">)</tspan></text>
<text><tspan class="c" x="152.97 166.39 179.80 193.22 206.64 220.06 233.48 246.89 260.31 273.73 287.15" y="779.95" font-size="12.68">オームの法則とスイッチ</tspan><tspan x="302.74" y="778.80" font-size="13.42">(</tspan><tspan class="c" x="307.28 320.69 334.11 347.53" y="779.95" font-size="12.68">記号選択</tspan><tspan x="360.68" y="778.80" font-size="13.42">)</tspan></text>
<text x="391.70 397.70 403.70 412.40" y="780.15" font-size="14" text-anchor="middle" class="n">49.6</text>
<text x="703.50 709.50 718.20" y="780.15" font-size="14" text-anchor="middle" class="n">1.1</text>
<text class="p" font-size="14.2" text-anchor="middle"><tspan x="84.2" y="803.01">(</tspan><tspan x="89.35" y="804.11">4</tspan><tspan x="95.6" y="803.01">)</tspan></text>
<text><tspan class="c" x="152.97 166.62 180.28 193.93 207.58 221.23 234.88 248.53 262.18" y="803.68" font-size="12.90">最小電流とスイッチ</tspan><tspan x="278.03" y="802.52" font-size="13.65">(</tspan><tspan class="c" x="282.65 296.30 309.95 323.60" y="803.68" font-size="12.90">記号選択</tspan><tspan x="336.97" y="802.52" font-size="13.65">)</tspan></text>
<text x="391.70 397.70 403.70 412.40" y="803.81" font-size="14" text-anchor="middle" class="n">23.1</text>
<text x="703.50 709.50 718.20" y="803.81" font-size="14" text-anchor="middle" class="n">1.4</text>
<text class="p" font-size="14.2" text-anchor="middle"><tspan x="84.2" y="826.66">(</tspan><tspan x="89.35" y="827.76">5</tspan><tspan x="95.6" y="826.66">)</tspan></text>
<text><tspan class="c" x="105.92" y="827.38" font-size="13.00">①</tspan></text>
<text><tspan class="c" x="152.97 166.62 180.28" y="827.34" font-size="12.90">発熱量</tspan><tspan x="196.13" y="826.17" font-size="13.65">(</tspan><tspan class="c" x="200.75 214.40" y="827.34" font-size="12.90">計算</tspan><tspan x="227.78" y="826.17" font-size="13.65">)</tspan></text>
<text x="391.70 397.70 403.70 412.40" y="827.46" font-size="14" text-anchor="middle" class="n">49.5</text>
<text x="697.50 703.50 709.50 718.20" y="827.46" font-size="14" text-anchor="middle" class="n">14.0</text>
<text><tspan class="c" x="105.92" y="851.03" font-size="13.00">②</tspan></text>
<text><tspan class="c" x="152.97 166.62 180.28 193.93 207.58 221.23 234.88 248.53" y="850.99" font-size="12.90">並列接続の抵抗値</tspan><tspan x="264.38" y="849.83" font-size="13.65">(</tspan><tspan class="c" x="269.00 282.65" y="850.99" font-size="12.90">計算</tspan><tspan x="296.02" y="849.83" font-size="13.65">)</tspan></text>
<text x="391.70 397.70 403.70 412.40" y="851.12" font-size="14" text-anchor="middle" class="n">23.9</text>
<text x="697.50 703.50 709.50 718.20" y="851.12" font-size="14" text-anchor="middle" class="n">15.7</text>
<text class="p" font-size="14.2" text-anchor="middle"><tspan x="84.2" y="873.97">(</tspan><tspan x="89.35" y="875.07">6</tspan><tspan x="95.6" y="873.97">)</tspan></text>
<text><tspan class="c" x="152.97 166.62 180.28 193.93 207.58 221.23 234.88 248.53 262.18 275.82" y="874.65" font-size="12.90">抵抗の大きさと発熱量</tspan><tspan x="291.68" y="873.48" font-size="13.65">(</tspan><tspan class="c" x="296.30 309.95 323.60 337.25" y="874.65" font-size="12.90">記号選択</tspan><tspan x="350.62" y="873.48" font-size="13.65">)</tspan></text>
<text x="391.70 397.70 403.70 412.40" y="874.77" font-size="14" text-anchor="middle" class="n">30.9</text>
<text x="703.50 709.50 718.20" y="874.77" font-size="14" text-anchor="middle" class="n">1.6</text>
<text class="p" font-size="14.2" text-anchor="middle"><tspan x="84.2" y="897.63">(</tspan><tspan x="89.35" y="898.73">7</tspan><tspan x="95.6" y="897.63">)</tspan></text>
<text><tspan class="c" x="152.97 166.62 180.28 193.93 207.58 221.23 234.88 248.53 262.18 275.82 289.47 303.12" y="898.30" font-size="12.90">電気ポットの水が沸く時間</tspan><tspan x="318.98" y="897.14" font-size="13.65">(</tspan><tspan class="c" x="323.60 337.25" y="898.30" font-size="12.90">計算</tspan><tspan x="350.62" y="897.14" font-size="13.65">)</tspan></text>
<text x="391.70 397.70 403.70 412.40" y="898.43" font-size="14" text-anchor="middle" class="n">19.7</text>
<text x="697.50 703.50 709.50 718.20" y="898.43" font-size="14" text-anchor="middle" class="n">22.9</text>
<text class="p" font-size="14.2" text-anchor="middle"><tspan x="84.2" y="921.28">(</tspan><tspan x="89.35" y="922.38">8</tspan><tspan x="95.6" y="921.28">)</tspan></text>
<text><tspan class="c" x="152.97 166.62 180.28 193.93 207.58 221.23" y="921.96" font-size="12.90">ショート回路</tspan><tspan x="237.08" y="920.79" font-size="13.65">(</tspan><tspan class="c" x="241.70 255.35" y="921.96" font-size="12.90">論述</tspan><tspan x="268.73" y="920.79" font-size="13.65">)</tspan></text>
<text x="391.70 397.70 403.70 412.40" y="922.08" font-size="14" text-anchor="middle" class="n">36.1</text>
<text x="697.50 703.50 709.50 718.20" y="922.08" font-size="14" text-anchor="middle" class="n">23.3</text>
<text><tspan class="c" x="34.50" y="134.03" font-size="12.90">化</tspan></text>
<text><tspan class="c" x="34.50" y="149.13" font-size="12.90">学</tspan></text>
<text><tspan class="c" x="34.50" y="164.23" font-size="12.90">的</tspan></text>
<text><tspan class="c" x="34.50" y="179.33" font-size="12.90">領</tspan></text>
<text><tspan class="c" x="34.50" y="194.43" font-size="12.90">域</tspan></text>
<text x="63.90" y="90.31" font-size="14.2" text-anchor="middle" >1</text>
<text><tspan class="c" x="34.50" y="346.92" font-size="12.90">地</tspan></text>
<text><tspan class="c" x="34.50" y="362.02" font-size="12.90">学</tspan></text>
<text><tspan class="c" x="34.50" y="377.12" font-size="12.90">的</tspan></text>
<text><tspan class="c" x="34.50" y="392.22" font-size="12.90">領</tspan></text>
<text><tspan class="c" x="34.50" y="407.32" font-size="12.90">域</tspan></text>
<text x="63.90" y="303.20" font-size="14.2" text-anchor="middle" >2</text>
<text><tspan class="c" x="34.50" y="571.64" font-size="12.90">生</tspan></text>
<text><tspan class="c" x="34.50" y="586.74" font-size="12.90">物</tspan></text>
<text><tspan class="c" x="34.50" y="601.84" font-size="12.90">的</tspan></text>
<text><tspan class="c" x="34.50" y="616.94" font-size="12.90">領</tspan></text>
<text><tspan class="c" x="34.50" y="632.04" font-size="12.90">域</tspan></text>
<text x="63.90" y="516.10" font-size="14.2" text-anchor="middle" >3</text>
<text><tspan class="c" x="34.50" y="796.37" font-size="12.90">物</tspan></text>
<text><tspan class="c" x="34.50" y="811.47" font-size="12.90">理</tspan></text>
<text><tspan class="c" x="34.50" y="826.57" font-size="12.90">的</tspan></text>
<text><tspan class="c" x="34.50" y="841.67" font-size="12.90">領</tspan></text>
<text><tspan class="c" x="34.50" y="856.77" font-size="12.90">域</tspan></text>
<text x="63.90" y="752.65" font-size="14.2" text-anchor="middle" >4</text>
<text><tspan class="c" x="74.30 87.95 101.60 115.25" y="34.53" font-size="12.90">問題番号</tspan></text>
<text><tspan class="c" x="232.80" y="34.53" font-size="12.90">内</tspan></text>
<text><tspan class="c" x="273.80" y="34.53" font-size="12.90">容</tspan></text>
<text><tspan class="c" x="441.50" y="34.88" font-size="12.90">得</tspan></text>
<text><tspan class="c" x="482.50" y="34.88" font-size="12.90">点</tspan></text>
<text><tspan class="c" x="524.80" y="34.88" font-size="12.90">率</tspan></text>
<text font-size="14" text-anchor="middle"><tspan x="576.60" y="34.90">(</tspan><tspan x="586.00" y="36.60" font-size="15.5">%</tspan><tspan x="595.70" y="34.90">)</tspan></text>
<text font-size="14" text-anchor="middle"><tspan x="694.20" y="41.95">(</tspan><tspan x="703.20" y="43.65" font-size="15.5">%</tspan><tspan x="713.20" y="41.95">)</tspan></text>
<text><tspan class="c" x="683.40 696.70 710.00" y="26.93" font-size="12.90">無答率</tspan></text>
<text x="426.50" y="53.0" font-size="9.8" text-anchor="middle" class="n">0</text>
<text x="469.50" y="53.0" font-size="9.8" text-anchor="middle" class="n">20</text>
<text x="515.50" y="53.0" font-size="9.8" text-anchor="middle" class="n">40</text>
<text x="561.50" y="53.0" font-size="9.8" text-anchor="middle" class="n">60</text>
<text x="606.50" y="53.0" font-size="9.8" text-anchor="middle" class="n">80</text>
<text x="652.50" y="53.0" font-size="9.8" text-anchor="middle" class="n">100</text>
</svg>
</body></html>
